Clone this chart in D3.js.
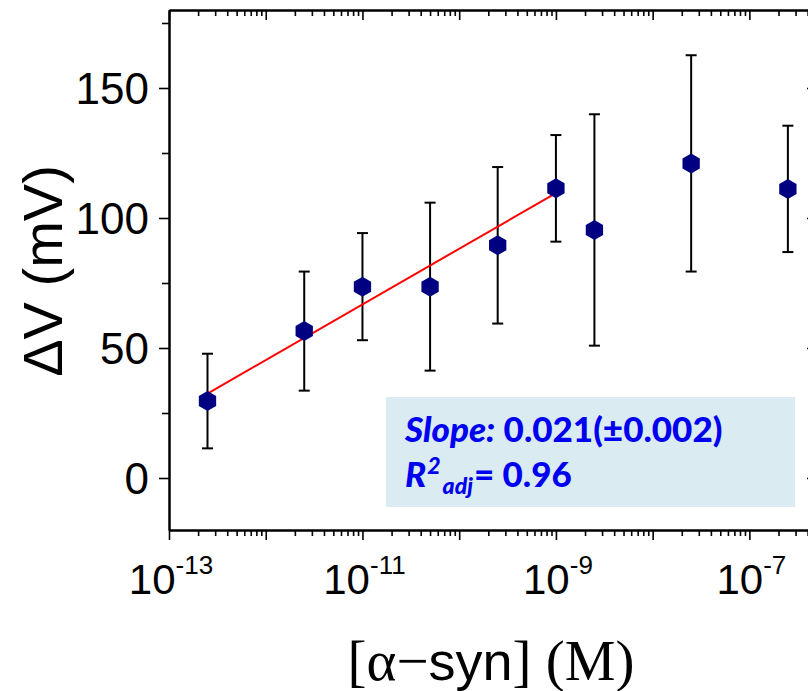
<!DOCTYPE html>
<html>
<head>
<meta charset="utf-8">
<script src="https://cdn.jsdelivr.net/npm/d3@7"></script>
<style>
  html, body { margin: 0; padding: 0; background: #fff; }
  svg { display: block; }
</style>
</head>
<body>
<svg id="chart" width="808" height="691"></svg>
<script>
// α-synuclein concentration (M) and measured potential shift ΔV (mV) with SD
const concentration = [2.5e-13, 2.5e-12, 1e-11, 5e-11, 2.5e-10, 1e-9, 2.5e-9, 2.5e-8, 2.5e-7];
const deltaV        = [29.6, 56.5, 73.6, 73.6, 89.5, 111.4, 95.4, 121.0, 111.2];
const deltaVsd      = [18.2, 22.9, 20.6, 32.3, 30.1, 20.5, 44.5, 41.6, 24.3];

// Linear fit over the log-linear range: ΔV = intercept + slope·log10(c)
const fitSlopeV      = 0.0214;         // V per decade
const fitInterceptMV = 302.17;         // mV at c = 1 M
const fitRange       = [2.5e-13, 1e-9];

// Axis ticks
const yMajorTicks = [0, 50, 100, 150];
const yMinorTicks = [25, 75, 125, 175];
const xDecades    = [-13, -12, -11, -10, -9, -8, -7, -6];
const xLabelExps  = [-13, -11, -9, -7];

const svg = d3.select("#chart");

const x = d3.scaleLog().domain([1e-13, 5e-7]).range([169, 817]);
const y = d3.scaleLinear().domain([-20, 180]).range([530, 10]);

const majorX = xDecades.map(e => Math.pow(10, e));
const minorX = [];
xDecades.forEach(e => { for (let k = 2; k <= 9; k++) minorX.push(k * Math.pow(10, e)); });

const [xl, xr] = x.range();
const [yb, yt] = y.range();

function styleAxis(g) {
  g.selectAll("path.domain").attr("stroke", "#000").attr("stroke-width", 2);
  g.selectAll(".tick line").attr("stroke", "#000").attr("stroke-width", 1.6);
  g.selectAll(".tick text").remove();
}

// Bottom axis (ticks outward)
svg.append("g").attr("transform", `translate(0,${yb})`)
  .call(d3.axisBottom(x).tickValues(minorX).tickSize(6).tickSizeOuter(0)).call(styleAxis);
svg.append("g").attr("transform", `translate(0,${yb})`)
  .call(d3.axisBottom(x).tickValues(majorX).tickSize(10).tickSizeOuter(0)).call(styleAxis);
// Top axis (ticks inward)
svg.append("g").attr("transform", `translate(0,${yt})`)
  .call(d3.axisTop(x).tickValues(minorX).tickSize(-6).tickSizeOuter(0)).call(styleAxis);
svg.append("g").attr("transform", `translate(0,${yt})`)
  .call(d3.axisTop(x).tickValues(majorX).tickSize(-10).tickSizeOuter(0)).call(styleAxis);
// Left axis (ticks outward)
svg.append("g").attr("transform", `translate(${xl},0)`)
  .call(d3.axisLeft(y).tickValues(yMinorTicks).tickSize(7).tickSizeOuter(0)).call(styleAxis);
svg.append("g").attr("transform", `translate(${xl},0)`)
  .call(d3.axisLeft(y).tickValues(yMajorTicks).tickSize(10).tickSizeOuter(0)).call(styleAxis);
// Right axis (ticks inward)
svg.append("g").attr("transform", `translate(${xr},0)`)
  .call(d3.axisRight(y).tickValues(yMinorTicks).tickSize(-7).tickSizeOuter(0)).call(styleAxis);
svg.append("g").attr("transform", `translate(${xr},0)`)
  .call(d3.axisRight(y).tickValues(yMajorTicks).tickSize(-10).tickSizeOuter(0)).call(styleAxis);

// Y tick labels
svg.append("g").selectAll("text").data(yMajorTicks).join("text")
  .attr("x", xl - 20).attr("y", d => y(d))
  .attr("dy", "0.36em")
  .attr("text-anchor", "end")
  .attr("font-family", "'Liberation Sans', Arial, sans-serif")
  .attr("font-size", 44)
  .text(d => d);

// X tick labels: 10^n
const xt = svg.append("g").selectAll("text").data(xLabelExps).join("text")
  .attr("x", d => x(Math.pow(10, d)) + 2).attr("y", 594)
  .attr("text-anchor", "middle")
  .attr("font-family", "'Liberation Sans', Arial, sans-serif")
  .attr("font-size", 42);
xt.append("tspan").text("10");
xt.append("tspan").attr("dy", -20).attr("font-size", 26).text(d => "-" + Math.abs(d));

// Axis titles
svg.append("text")
  .attr("transform", "translate(62,271) rotate(-90)")
  .attr("text-anchor", "middle")
  .attr("font-family", "'Liberation Sans', Arial, sans-serif")
  .attr("font-size", 56)
  .text("ΔV (mV)");

const xTitle = svg.append("text")
  .attr("x", 491).attr("y", 680)
  .attr("text-anchor", "middle")
  .attr("font-size", 57);
xTitle.append("tspan").attr("font-family", "'Liberation Serif', 'Times New Roman', serif").text("[α−");
xTitle.append("tspan").attr("font-family", "'Liberation Sans', Arial, sans-serif").attr("font-size", 54).text("syn");
xTitle.append("tspan").attr("font-family", "'Liberation Serif', 'Times New Roman', serif").text("] (M)");

// Fit statistics box
svg.append("rect")
  .attr("x", 386).attr("y", 397).attr("width", 409).attr("height", 110)
  .attr("fill", "#daecf2");

const statFont = "Lato, 'Open Sans', sans-serif";
const statColor = "#0000f0";
const line1 = svg.append("text").attr("x", 405).attr("y", 442)
  .attr("font-family", statFont).attr("font-size", 35).attr("font-weight", 900).attr("fill", statColor);
line1.append("tspan").attr("font-style", "italic").text("Slope:");
line1.append("tspan").text(` ${fitSlopeV.toFixed(3)}(±0.002)`);

const line2 = svg.append("text").attr("x", 405).attr("y", 487)
  .attr("font-family", statFont).attr("font-size", 35).attr("font-weight", 900).attr("fill", statColor);
line2.append("tspan").attr("font-style", "italic").text("R");
line2.append("tspan").attr("font-style", "italic").attr("font-size", 23).attr("dx", 1).attr("dy", -13).text("2");
line2.append("tspan").attr("font-style", "italic").attr("font-size", 23).attr("dx", 2).attr("dy", 20).text("adj");
line2.append("tspan").attr("dx", 1).attr("dy", -7).text("= 0.96");

// Error bars
const bars = svg.append("g").attr("stroke", "#000").attr("stroke-width", 2);
concentration.forEach((c, i) => {
  const cx = x(c), lo = y(deltaV[i] - deltaVsd[i]), hi = y(deltaV[i] + deltaVsd[i]);
  bars.append("line").attr("x1", cx).attr("x2", cx).attr("y1", lo).attr("y2", hi);
  bars.append("line").attr("x1", cx - 5.5).attr("x2", cx + 5.5).attr("y1", lo).attr("y2", lo);
  bars.append("line").attr("x1", cx - 5.5).attr("x2", cx + 5.5).attr("y1", hi).attr("y2", hi);
});

// Fit line
const fitLine = d3.line()
  .x(c => x(c))
  .y(c => y(fitInterceptMV + fitSlopeV * 1000 * Math.log10(c)));
svg.append("path")
  .attr("d", fitLine(fitRange))
  .attr("fill", "none").attr("stroke", "#ff0000").attr("stroke-width", 2);

// Hexagon markers
const hexR = 10;
const hexagon = d3.line()(d3.range(6).map(k => {
  const a = Math.PI / 2 + k * Math.PI / 3;
  return [hexR * Math.cos(a), hexR * Math.sin(a)];
})) + "Z";
svg.append("g").selectAll("path").data(concentration).join("path")
  .attr("transform", (c, i) => `translate(${x(c)},${y(deltaV[i])})`)
  .attr("d", hexagon)
  .attr("fill", "#000080");
</script>
</body>
</html>
